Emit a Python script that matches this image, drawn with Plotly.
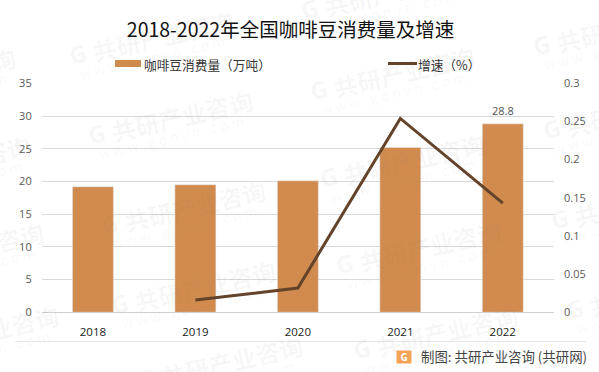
import plotly.graph_objects as go

W, H = 599, 372
years = ["2018", "2019", "2020", "2021", "2022"]
consumption = [19.2, 19.5, 20.1, 25.2, 28.8]
growth = [None, 0.016, 0.0317, 0.254, 0.143]
labelled_year = "2022"
labelled_value = 28.8
title = "2018-2022年全国咖啡豆消费量及增速"
source = "制图: 共研产业咨询 (共研网)"
bar_name = "咖啡豆消费量（万吨）"
line_name = "增速（%）"
wm_cn = "共研产业咨询"
wm_en = "w w w . g o n y n . c o m"
wm_xs = [163, 182, -55, -40, 627, 404, 395, 637, 414, 195, -27, 205, -12, 232, 430, 447, 645, 660]
wm_ys = [35, 115, 72, 160, 26, 71, -10, 110, 158, 205, 247, 285, 330, 360, 245, 330, 200, 290]

CJK = "Noto Sans CJK SC"
LAT = "Open Sans"
BAR = "#D28B4E"
LINE = "#63432A"
WM = "rgba(120,120,120,0.06)"


def px(x, y):
    # canvas-pixel axis; anchors are kept on the canvas and the rest is applied as a shift
    cx, cy = min(max(x, 0), W), min(max(y, 0), H)
    return dict(x=cx, y=cy, xref="x3", yref="y3", showarrow=False, xshift=x - cx, yshift=cy - y)


fig = go.Figure()
fig.add_bar(x=years, y=consumption, name=bar_name, marker_color=BAR, width=0.4, showlegend=False)
fig.add_scatter(x=years, y=growth, name=line_name, yaxis="y2", mode="lines",
                line=dict(color=LINE, width=3), showlegend=False)
fig.add_scatter(x=[0], y=[0], xaxis="x3", yaxis="y3", mode="none", showlegend=False, hoverinfo="skip")

ann = []
for x, y in zip(wm_xs, wm_ys):
    ann.append(dict(**px(x, y), text="<b>" + wm_cn + "</b>", textangle=-13,
                    font=dict(size=24, color=WM, family=CJK)))
    ann.append(dict(**px(x - 11, y + 22), text=wm_en, textangle=-13,
                    font=dict(size=14, color=WM, family=CJK)))
    ann.append(dict(**px(x - 86, y + 18), text="<b>G</b>", textangle=-13,
                    font=dict(size=24, color=WM, family=LAT)))
ann.append(dict(x=years.index(labelled_year), y=labelled_value, xref="x", yref="y", yanchor="bottom", yshift=4,
                showarrow=False, text=str(labelled_value),
                font=dict(size=11, color="#555555", family=LAT)))
ann.append(dict(**px(142, 64), xanchor="left", text=bar_name,
                font=dict(size=12.7, color="#333333", family=CJK)))
ann.append(dict(**px(416, 64), xanchor="left", text=line_name,
                font=dict(size=12.7, color="#333333", family=CJK)))
ann.append(dict(**px(589, 356), xanchor="right", text=source,
                font=dict(size=13.4, color="#444444", family=CJK)))
ann.append(dict(**px(404, 357), text="<b>G</b>", bgcolor="#F5A356", width=14, height=12,
                borderpad=0, font=dict(size=10, color="white", family=LAT)))

tick_font = dict(size=11, color="#595959", family=LAT)

fig.update_layout(
    width=W, height=H, margin=dict(l=0, r=0, t=0, b=0, pad=0), autosize=False,
    paper_bgcolor="white", plot_bgcolor="rgba(0,0,0,0)",
    title=dict(text=title, x=290.5 / W, xanchor="center", y=1 - 30 / H, yanchor="middle",
               font=dict(size=19.5, color="#111111", family=CJK)),
    showlegend=False,
    xaxis=dict(domain=[41.7 / W, 554 / W], showgrid=False, showline=True, linecolor="#D0D0D0",
               ticks="", tickfont=dict(size=11.5, color="#222222", family=LAT), anchor="y",
               range=[-0.5, 4.5], type="category", ticklabelstandoff=9, automargin=False),
    yaxis=dict(domain=[1 - 312.3 / H, 1 - 83.3 / H], range=[0, 35], dtick=5, gridcolor="#D9D9D9",
               gridwidth=1, zeroline=False, ticks="", tickfont=tick_font, ticklabelstandoff=9, automargin=False),
    yaxis2=dict(overlaying="y", side="right", range=[0, 0.3], showgrid=False, zeroline=False,
                tickvals=[0, 0.05, 0.1, 0.15, 0.2, 0.25, 0.3],
                ticktext=["0", "0.05", "0.1", "0.15", "0.2", "0.25", "0.3"],
                ticks="", tickfont=tick_font, anchor="x", ticklabelstandoff=9, automargin=False),
    xaxis3=dict(domain=[0, 1], range=[0, W], visible=False, anchor="y3", automargin=False),
    yaxis3=dict(domain=[0, 1], range=[H, 0], visible=False, anchor="x3", automargin=False),
    annotations=ann,
    shapes=[
        dict(type="line", xref="x3", yref="y3", x0=15, x1=586,
             y0=341.5, y1=341.5, line=dict(color="#E6E6E6", width=1)),
        dict(type="rect", xref="x3", yref="y3", x0=115, x1=141,
             y0=60, y1=67, fillcolor=BAR, line_width=0),
        dict(type="line", xref="x3", yref="y3", x0=388, x1=417,
             y0=63.5, y1=63.5, line=dict(color=LINE, width=3)),
    ],
)
fig.write_html("out.html", config={"displayModeBar": False},
               post_script="document.body.style.margin='0';document.documentElement.style.overflow='hidden';")
